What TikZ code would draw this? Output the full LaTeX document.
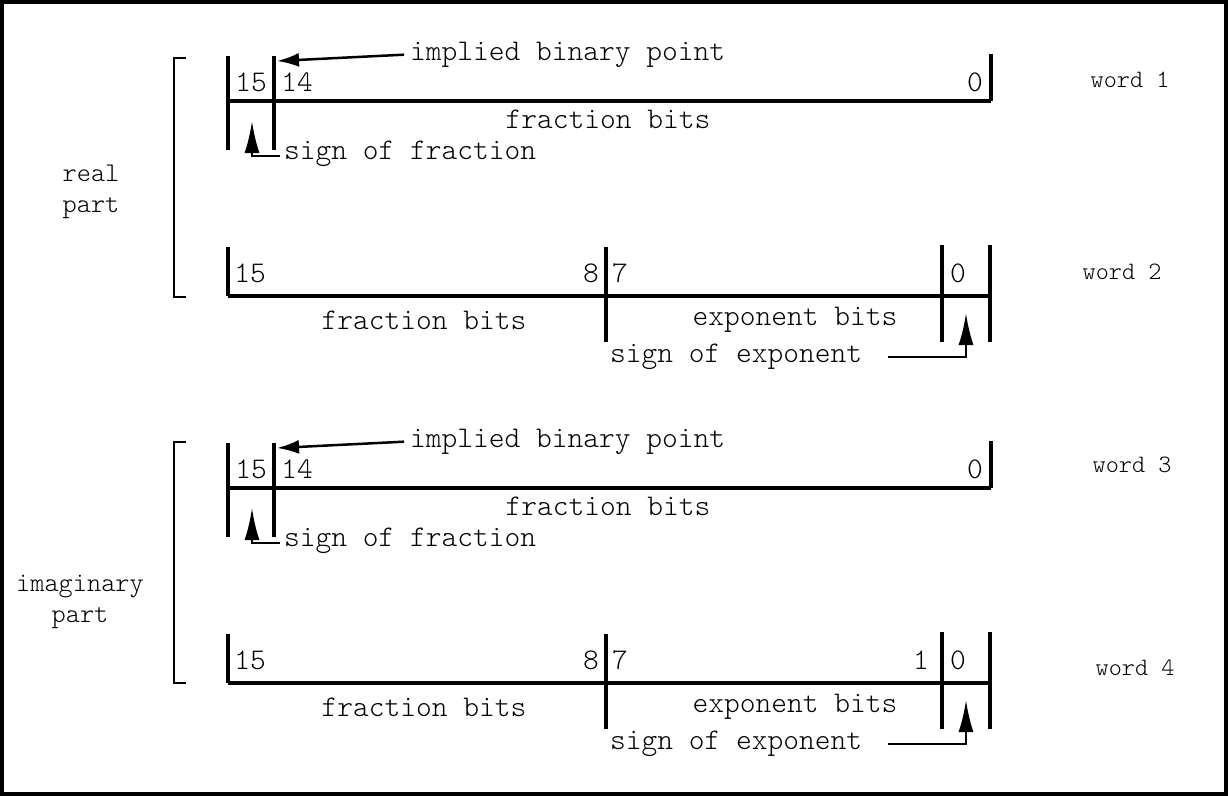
\documentclass[tikz,border=0pt]{standalone}
\usepackage{fontspec}
\newfontfamily\lightmono{Latin Modern Mono Light}
\usetikzlibrary{arrows.meta}
\tikzset{
  bar/.style={line width=4.2pt},
  rule/.style={line width=3.2pt},
  brk/.style={line width=1.8pt},
  lbl/.style={font=\fontsize{30}{30}\selectfont\lightmono, inner sep=0pt},
  slbl/.style={font=\fontsize{27}{27}\selectfont\lightmono, inner sep=0pt},
  wlbl/.style={font=\fontsize{25}{25}\selectfont\lightmono, inner sep=0pt},
  ptr/.style={line width=2.5pt, -{Latex[length=22pt,width=14pt]}},
  sgn/.style={line width=2.5pt, -{Latex[length=32pt,width=15pt]}},
}
\newcommand\FracWord[1]{%
  \coordinate (#1Lt) at (228,56); \coordinate (#1Lb) at (228,150);
  \coordinate (#1Mt) at (274,56); \coordinate (#1Mb) at (274,150);
  \coordinate (#1Hl) at (228,101); \coordinate (#1Hr) at (991,101);
  \coordinate (#1Rt) at (991,54);
  \draw[bar] (#1Lt) -- (#1Lb);
  \draw[bar] (#1Mt) -- (#1Mb);
  \draw[rule] (#1Hl) -- (#1Hr);
  \draw[bar] (#1Rt) -- (#1Hr);
  \node[lbl] (#1n15) at (251,82) {15};
  \node[lbl] (#1n14) at (297,82) {14};
  \node[lbl] (#1n0) at (975,82) {0};
  \node[lbl] (#1fb) at (608,119) {fraction bits};
  \node[lbl, anchor=base west] (#1ibp) at (410,60) {implied binary point};
  \coordinate (#1tip) at (277,61);
  \draw[ptr, shorten <=6pt] (#1ibp.west) -- (#1tip);
  \node[lbl, anchor=base west] (#1sf) at (284,159) {sign of fraction};
  \coordinate (#1se) at (280,156);
  \coordinate (#1st) at (252,121);
  \draw[sgn] (#1se) -| (#1st);
}
\newcommand\ExpWord[1]{%
  \coordinate (#1Lt) at (228,247);
  \coordinate (#1Hl) at (228,296); \coordinate (#1Hr) at (990,296);
  \coordinate (#1Mt) at (606,247); \coordinate (#1Mb) at (606,342);
  \coordinate (#1Et) at (942,245); \coordinate (#1Eb) at (942,342);
  \coordinate (#1Rt) at (990,245); \coordinate (#1Rb) at (990,342);
  \draw[bar] (#1Lt) -- (#1Hl);
  \draw[rule] (#1Hl) -- (#1Hr);
  \draw[bar] (#1Mt) -- (#1Mb);
  \draw[bar] (#1Et) -- (#1Eb);
  \draw[bar] (#1Rt) -- (#1Rb);
  \node[lbl] (#1n15) at (250,273) {15};
  \node[lbl] (#1n8) at (591,273) {8};
  \node[lbl] (#1n7) at (620,273) {7};
  \node[lbl] (#1n0) at (958,273) {0};
  \node[lbl] (#1fb) at (424,320) {fraction bits};
  \node[lbl] (#1eb) at (795,320) {exponent bits};
  \node[lbl, anchor=base west] (#1se) at (610,362) {sign of exponent};
  \coordinate (#1sa) at (888,357);
  \coordinate (#1st) at (966,313);
  \draw[sgn] (#1sa) -| (#1st);
}
\begin{document}
\begin{tikzpicture}[x=1pt,y=-1pt]
  \useasboundingbox (0,0) rectangle (1228,796);
  \draw[line width=4pt] (2,2) rectangle (1226,794);
  % real part
  \FracWord{a}
  \ExpWord{b}
  \coordinate (rb1) at (186,58); \coordinate (rb2) at (174,58);
  \coordinate (rb3) at (174,297); \coordinate (rb4) at (186,297);
  \draw[brk] (rb1) -- (rb2) -- (rb3) -- (rb4);
  \node[slbl, align=center] (real) at (91,192) {real\\[4pt]part};
  \node[wlbl] (w1) at (1130,80) {word 1};
  \node[wlbl] (w2) at (1122,272) {word 2};
  % imaginary part
  \begin{scope}[yshift=-387pt]
    \FracWord{c}
    \ExpWord{d}
    \node[lbl] (d1) at (921,273) {1};
  \end{scope}
  \coordinate (ib1) at (186,442); \coordinate (ib2) at (174,442);
  \coordinate (ib3) at (174,683); \coordinate (ib4) at (186,683);
  \draw[brk] (ib1) -- (ib2) -- (ib3) -- (ib4);
  \node[slbl, align=center] (imag) at (80,602) {imaginary\\[4pt]part};
  \node[wlbl] (w3) at (1132,465) {word 3};
  \node[wlbl] (w4) at (1135,668) {word 4};
\end{tikzpicture}
\end{document}
